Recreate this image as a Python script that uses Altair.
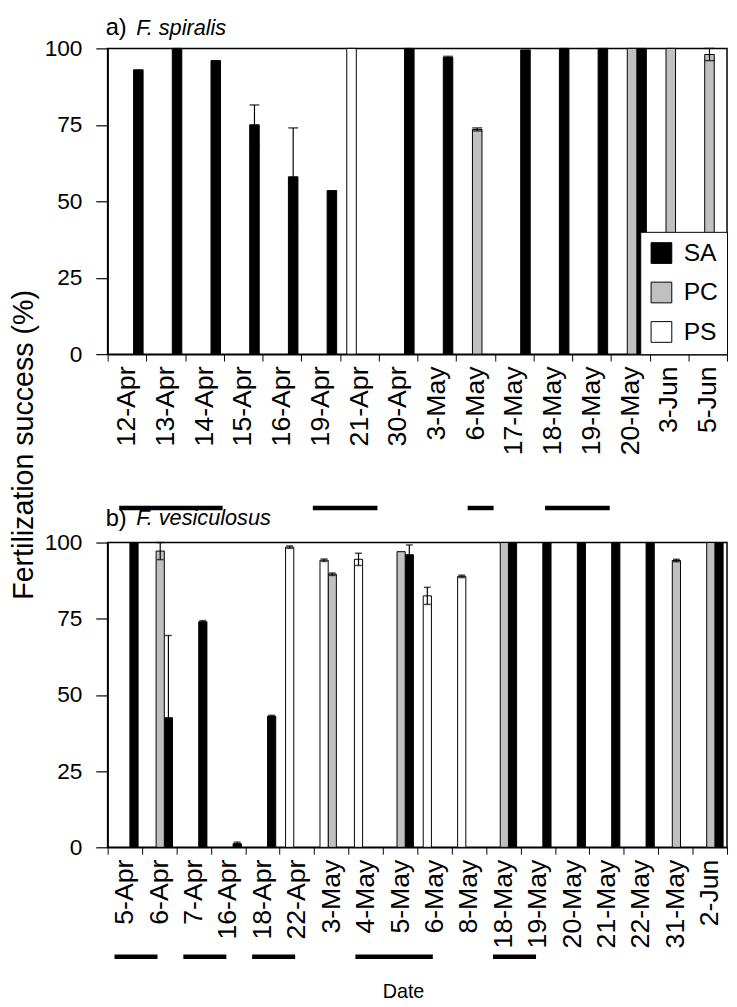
import altair as alt
import pandas as pd

FONT = "Liberation Sans"

SERIES = ["SA", "PC", "PS"]
SERIES_COLORS = ["#000000", "#c0c0c0", "#ffffff"]
OFFSET_ORDER = ["PS", "PC", "SA"]

Y_TITLE = "Fertilization success (%)"
X_TITLE = "Date"

# ---- panel a) F. spiralis ----
A_DATES = ["12-Apr", "13-Apr", "14-Apr", "15-Apr", "16-Apr", "19-Apr", "21-Apr", "30-Apr",
           "3-May", "6-May", "17-May", "18-May", "19-May", "20-May", "3-Jun", "5-Jun"]
A_SA = [93, 100, 96, 75, 58, 53.5, None, 100, 97, None, 99.5, 100, 100, 100, None, None]
A_SA_ERR = [0, 0, 0, 6.5, 16, 0, 0, 0, 0.4, 0, 0, 0, 0, 0, 0, 0]
A_PC = [None, None, None, None, None, None, None, None, None, 73.5, None, None, None, 100, 100, 98]
A_PC_ERR = [0, 0, 0, 0, 0, 0, 0, 0, 0, 0.5, 0, 0, 0, 0, 0, 2]
A_PS = [None, None, None, None, None, None, 100, None, None, None, None, None, None, None, None, None]
A_PS_ERR = [0] * 16
A_GROUPS = [("12-Apr", "14-Apr"), ("19-Apr", "21-Apr"), ("6-May", "6-May"), ("18-May", "19-May")]

# ---- panel b) F. vesiculosus ----
B_DATES = ["5-Apr", "6-Apr", "7-Apr", "16-Apr", "18-Apr", "22-Apr", "3-May", "4-May", "5-May",
           "6-May", "8-May", "18-May", "19-May", "20-May", "21-May", "22-May", "31-May", "2-Jun"]
B_SA = [100, 42.5, 74, 1.2, 43, None, None, None, 96, None, None, 100, 100, 100, 100, 100, None, 100]
B_SA_ERR = [0, 27, 0.4, 0.5, 0.3, 0, 0, 0, 3.2, 0, 0, 0, 0, 0, 0, 0, 0, 0]
B_PC = [None, 97.2, None, None, None, None, 89.6, None, 97, None, None, 100, None, None, None, None, 94.1, 100]
B_PC_ERR = [0, 2.8, 0, 0, 0, 0, 0.4, 0, 0, 0, 0, 0, 0, 0, 0, 0, 0.4, 0]
B_PS = [None, None, None, None, None, 98.5, 94.2, 94.5, None, 82.5, 88.9, None, None, None, None, None, None, None]
B_PS_ERR = [0, 0, 0, 0, 0, 0.4, 0.4, 2, 0, 2.8, 0.4, 0, 0, 0, 0, 0, 0, 0]
B_GROUPS = [("5-Apr", "6-Apr"), ("7-Apr", "16-Apr"), ("18-Apr", "22-Apr"), ("4-May", "6-May"), ("18-May", "19-May")]


def long_table(dates, vals, errs):
    rows = []
    for s in SERIES:
        for d, v, e in zip(dates, vals[s], errs[s]):
            if v is None:
                continue
            rows.append({"date": d, "series": s, "value": v,
                         "lo": max(v - e, 0), "hi": min(v + e, 100), "err": e})
    return pd.DataFrame(rows)


A_TABLE = long_table(A_DATES, {"SA": A_SA, "PC": A_PC, "PS": A_PS},
                     {"SA": A_SA_ERR, "PC": A_PC_ERR, "PS": A_PS_ERR})
B_TABLE = long_table(B_DATES, {"SA": B_SA, "PC": B_PC, "PS": B_PS},
                     {"SA": B_SA_ERR, "PC": B_PC_ERR, "PS": B_PS_ERR})

LETTER_FS = 24
SPECIES_FS = 22


def panel(dates, table, groups, letter, species, w, h, off_pad, off_align, cap,
          line_y, band0, band1, title_base, legend, extra):
    xaxis = alt.Axis(title=None, labelAngle=270, labelFontSize=27, labelFont=FONT,
                     labelColor="black", tickBand="extent", tickSize=7, tickColor="black",
                     tickWidth=1, domainColor="black", domainWidth=1.5, labelPadding=5,
                     labelOverlap=False)
    yaxis = alt.Axis(title=None, values=[0, 25, 50, 75, 100], tickSize=12, tickColor="black",
                     tickWidth=1.2, labelPadding=14, labelFontSize=23, labelFont=FONT,
                     labelColor="black", domainColor="black", domainWidth=1.5, grid=False)
    x = alt.X("date:N", sort=dates, scale=alt.Scale(domain=dates, paddingInner=0, paddingOuter=0),
              axis=xaxis)
    xo = alt.XOffset("series:N", scale=alt.Scale(domain=OFFSET_ORDER, paddingInner=0,
                                                 paddingOuter=off_pad, align=off_align))
    y = alt.Y("value:Q", scale=alt.Scale(domain=[0, 100], nice=False), axis=yaxis)
    color = alt.Color("series:N", scale=alt.Scale(domain=SERIES, range=SERIES_COLORS),
                      legend=legend)

    bars = alt.Chart(table).mark_bar(stroke="black", strokeWidth=1).encode(
        x=x, xOffset=xo, y=y, color=color)

    errs = table[table["err"] > 0]
    rule = alt.Chart(errs).mark_rule(color="black", strokeWidth=1.2).encode(
        x=alt.X("date:N", title=None), xOffset="series:N",
        y=alt.Y("lo:Q", title=None), y2="hi:Q")
    cap_hi = alt.Chart(errs).mark_tick(color="black", thickness=1.5, size=cap).encode(
        x=alt.X("date:N", title=None), xOffset="series:N", y=alt.Y("hi:Q", title=None))
    cap_lo = alt.Chart(errs).mark_tick(color="black", thickness=1.5, size=cap).encode(
        x=alt.X("date:N", title=None), xOffset="series:N", y=alt.Y("lo:Q", title=None))

    gl = pd.DataFrame(groups, columns=["start", "end"])
    lines = alt.Chart(gl).mark_rule(color="black", strokeWidth=4.5, strokeCap="butt").encode(
        x=alt.X("start:N", bandPosition=band0, title=None),
        x2=alt.X2("end:N", bandPosition=band1),
        y=alt.value(line_y))

    ttl = pd.DataFrame({"letter": [letter], "species": [species]})
    t1 = alt.Chart(ttl).mark_text(fontSize=LETTER_FS, font=FONT, align="left", baseline="top",
                                  color="black").encode(
        text="letter:N", x=alt.value(-2), y=alt.value(title_base - 0.79 * LETTER_FS))
    t2 = alt.Chart(ttl).mark_text(fontSize=SPECIES_FS, font=FONT, fontStyle="italic",
                                  align="left", baseline="top", color="black").encode(
        text="species:N", x=alt.value(29), y=alt.value(title_base - 0.79 * SPECIES_FS))

    layers = [bars, rule, cap_hi, cap_lo, lines, t1, t2] + extra
    return alt.layer(*layers).properties(width=w, height=h)


ytitle = alt.Chart(pd.DataFrame({"t": [Y_TITLE]})).mark_text(
    fontSize=29, font=FONT, angle=270, align="center", baseline="middle", color="black").encode(
    text="t:N", x=alt.value(-85), y=alt.value(402))

xtitle = alt.Chart(pd.DataFrame({"t": [X_TITLE]})).mark_text(
    fontSize=20, font=FONT, align="center", baseline="middle", color="black").encode(
    text="t:N", x=alt.value(300), y=alt.value(456))

legend_a = alt.Legend(title=None, orient="bottom-right", offset=0, symbolType="square",
                      symbolSize=441, symbolStrokeColor="black", symbolStrokeWidth=1,
                      labelFontSize=25, labelFont=FONT, labelColor="black", fillColor="white",
                      strokeColor="black", padding=9, rowPadding=14, labelOffset=10,
                      symbolOpacity=1)

pa = panel(A_DATES, A_TABLE, A_GROUPS, "a)", "F. spiralis", 628, 310, 0.53, 0.68, 10,
           466, 0.3, 0.97, -13.5, legend_a, [ytitle])
pb = panel(B_DATES, B_TABLE, B_GROUPS, "b)", "F. vesiculosus", 628, 309, 0.6, 0.6, 7,
           420, 0.2, 0.45, -17, None, [xtitle])

chart = alt.vconcat(pa, pb, spacing=191, bounds="flush").resolve_scale(
    color="independent", xOffset="independent", x="independent"
).properties(
    padding={"left": 1, "top": 0, "right": 0, "bottom": 0}
).configure(font=FONT).configure_view(stroke="black", strokeWidth=1.5)

chart.save("out.html", embed_options={"renderer": "svg", "actions": False})
